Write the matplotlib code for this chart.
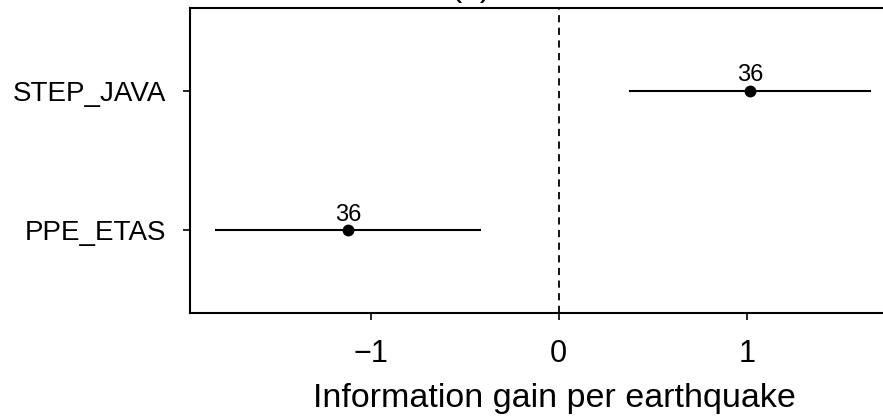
import matplotlib.pyplot as plt

plt.rcParams["font.family"] = ["Liberation Sans", "DejaVu Sans"]

modelos = ["PPE_ETAS", "STEP_JAVA"]
ganancia = [-1.12, 1.016]
limite_inf = [-1.82, 0.378]
limite_sup = [-0.42, 1.654]
n_eventos = [36, 36]

fig = plt.figure(figsize=(8.83, 4.17), dpi=100)
# eje mas ancho que la figura: el borde derecho queda recortado como en el original
ax = fig.add_axes([190 / 883, 1 - 313 / 417, 728 / 883, 305 / 417])

ys = list(range(1, len(modelos) + 1))
for y, g, lo, hi, n in zip(ys, ganancia, limite_inf, limite_sup, n_eventos):
    ax.plot([lo, hi], [y, y], color="black", lw=1.5)
    ax.plot(g, y, "o", color="black", ms=7.5)
    ax.annotate(str(n), (g, y), xytext=(0, 3), textcoords="offset points",
                ha="center", va="bottom", fontsize=17)

ax.axvline(0, color="black", ls=(0, (4, 3)), lw=1.3)

ax.set_xlim(-1.96, 1.91)
ax.set_ylim(0.41, 2.59)
ax.set_yticks(ys)
ax.set_yticklabels(modelos, fontsize=20)
ax.set_xticks([-1, 0, 1])
ax.set_xticklabels(["\u22121", "0", "1"], fontsize=22)
ax.set_xlabel("Information gain per earthquake", fontsize=24.5, labelpad=10)
ax.tick_params(axis="x", length=5, width=1.2, pad=14)
ax.tick_params(axis="y", length=5, width=1.2, pad=12)
for sp in ax.spines.values():
    sp.set_linewidth(1.5)

fig.text(471 / 883, 1 + 4 / 417, "(b)", ha="center", va="baseline", fontsize=24)

fig.savefig("out.png", dpi=100)
